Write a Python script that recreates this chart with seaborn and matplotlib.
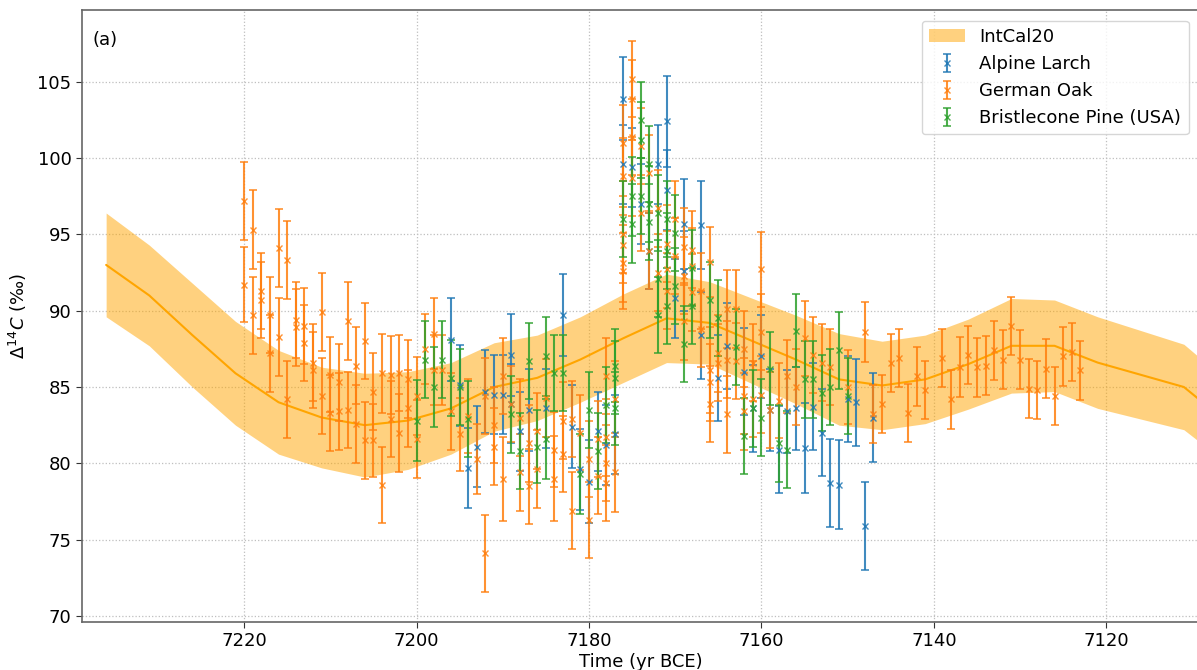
import matplotlib
matplotlib.use("Agg")
import matplotlib.pyplot as plt
import seaborn as sns

# IntCal20 curve (5-yr knots): mean and 1-sigma
intcal_year = [7236, 7231, 7226, 7221, 7216, 7211, 7206, 7201, 7196, 7191, 7186, 7181,
               7176, 7171, 7166, 7161, 7156, 7151, 7146, 7141, 7136, 7131, 7126, 7121,
               7116, 7111, 7106]
intcal_mean = [93.0, 91.0, 88.4, 85.9, 84.0, 83.0, 82.5, 82.8, 83.6, 85.0, 85.6, 86.8,
               88.2, 89.5, 89.2, 88.0, 86.8, 85.5, 85.1, 85.5, 86.5, 87.7, 87.7, 86.6,
               85.8, 85.0, 82.7]
intcal_sigma = [3.4, 3.3, 3.4, 3.4, 3.4, 3.3, 3.4, 3.2, 3.0, 2.9, 2.8, 2.8,
                2.9, 2.9, 2.7, 2.8, 2.9, 3.0, 2.9, 2.9, 2.95, 3.1, 3.0, 3.0,
                2.9, 2.8, 2.7]

# Alpine Larch
larch_year = [7196, 7195, 7194, 7193, 7192, 7191, 7190, 7189, 7189, 7188, 7187, 7185,
              7183, 7182, 7181, 7180, 7179, 7178, 7177, 7176, 7176, 7175, 7174, 7173,
              7172, 7171, 7171, 7170, 7169, 7169, 7167, 7167, 7165, 7164, 7162, 7161,
              7160, 7159, 7158, 7157, 7156, 7155, 7154, 7153, 7152, 7151, 7150, 7149,
              7148, 7147]
larch_d14c = [88.1, 85.1, 79.7, 81.1, 84.7, 84.5, 84.5, 87.1, 83.9, 82.1, 83.5, 83.6,
              89.7, 82.4, 79.6, 78.8, 82.1, 81.2, 81.9, 103.9, 99.6, 99.4, 97.0, 93.9,
              99.6, 102.4, 97.9, 90.8, 95.7, 92.6, 95.6, 88.4, 85.6, 87.7, 86.0, 83.6,
              87.0, 83.5, 80.9, 83.4, 83.6, 81.0, 83.7, 82.0, 78.7, 78.6, 84.2, 84.0,
              75.9, 83.0]
larch_err = [2.7, 2.65, 2.6, 2.65, 2.7, 2.6, 2.6, 2.7, 2.6, 2.6, 2.7, 2.6,
             2.7, 2.7, 2.65, 2.7, 2.6, 2.6, 2.6, 2.7, 2.6, 2.6, 2.6, 2.5,
             2.6, 3.0, 2.6, 2.6, 2.95, 2.6, 2.9, 2.85, 2.8, 2.8, 2.85, 2.85,
             2.7, 2.7, 2.85, 2.7, 2.7, 2.95, 2.85, 2.85, 2.9, 2.9, 2.8, 2.85,
             2.9, 2.9]

# German Oak
oak_year = [7220, 7220, 7219, 7219, 7218, 7218, 7217, 7217, 7216, 7216, 7215, 7215,
            7214, 7214, 7213, 7213, 7212, 7212, 7211, 7211, 7210, 7210, 7209, 7209,
            7208, 7208, 7207, 7207, 7206, 7206, 7205, 7205, 7204, 7204, 7203, 7203,
            7202, 7202, 7201, 7201, 7200, 7200, 7199, 7198, 7198, 7197, 7196, 7195,
            7194, 7193, 7192, 7192, 7191, 7191, 7190, 7190, 7189, 7188, 7188, 7187,
            7187, 7186, 7186, 7185, 7184, 7184, 7183, 7183, 7182, 7182, 7181, 7180,
            7180, 7179, 7179, 7178, 7178, 7178, 7178, 7177, 7177,
            7176, 7176, 7176, 7176, 7176, 7176, 7175, 7175, 7175, 7175, 7174, 7174,
            7173, 7173, 7172, 7172, 7171, 7171, 7171, 7170, 7170, 7169, 7169, 7169,
            7168, 7168, 7168, 7167, 7167, 7166, 7166, 7166, 7166, 7165, 7165,
            7164, 7164, 7164, 7163, 7163, 7162, 7162, 7162, 7161, 7161, 7160, 7160,
            7160, 7159, 7158, 7157, 7156, 7155, 7154, 7153, 7152, 7150,
            7148, 7147, 7146, 7145, 7144, 7143, 7142, 7141, 7139, 7138, 7137, 7136,
            7135, 7134, 7133, 7132, 7131, 7130, 7129, 7128, 7127, 7126, 7125, 7124,
            7123]
oak_d14c = [97.2, 91.7, 95.3, 89.7, 91.3, 90.7, 89.7, 87.2, 94.1, 88.3, 93.3, 84.2,
            89.4, 88.9, 89.0, 87.9, 86.6, 86.1, 89.9, 84.4, 85.8, 83.3, 85.3, 83.4,
            89.3, 83.5, 86.4, 82.6, 88.0, 81.5, 84.7, 81.5, 85.9, 78.6, 85.8, 82.9,
            85.9, 82.0, 85.5, 83.6, 84.4, 81.6, 87.5, 88.5, 86.1, 86.1, 83.4, 81.9,
            83.1, 80.3, 84.4, 74.1, 82.5, 81.1, 85.7, 79.0, 83.9, 83.0, 79.4, 81.3,
            78.5, 82.1, 79.6, 84.3, 80.9, 79.0, 82.8, 80.6, 82.9, 76.9, 82.0, 80.3,
            76.3, 81.6, 79.2, 85.7, 81.7, 80.0, 78.7, 84.2, 79.4,
            101.0, 98.8, 95.0, 94.3, 93.1, 92.6, 105.2, 103.9, 101.4, 98.7, 100.8, 96.4,
            99.0, 93.9, 96.7, 92.5, 94.4, 92.7, 91.3, 96.0, 93.6, 94.2, 92.3, 89.3,
            94.0, 92.9, 91.2, 91.3, 88.8, 93.2, 86.1, 85.3, 83.9, 87.2, 86.6,
            90.1, 86.8, 83.2, 90.1, 86.7, 87.5, 84.4, 83.4, 86.6, 84.2, 92.7, 88.6,
            84.5, 83.5, 84.1, 85.7, 85.0, 88.2, 87.1, 86.6, 86.3, 85.0,
            88.6, 83.2, 83.9, 86.6, 86.9, 83.3, 85.7, 84.8, 86.9, 84.2, 86.3, 87.1,
            86.3, 86.4, 87.4, 86.8, 89.0, 86.8, 84.9, 84.8, 86.2, 84.4, 87.0, 87.3,
            86.1]
oak_err = [2.56, 2.46, 2.58, 2.53, 2.5, 2.5, 2.5, 2.5, 2.56, 2.55, 2.56, 2.53,
           2.5, 2.5, 2.5, 2.5, 2.5, 2.5, 2.55, 2.5, 2.45, 2.5, 2.5, 2.5,
           2.55, 2.5, 2.5, 2.55, 2.5, 2.55, 2.5, 2.4, 2.6, 2.5, 2.55, 2.5,
           2.5, 2.55, 2.55, 2.5, 2.55, 2.55, 2.3, 2.3, 2.3, 2.3, 2.5, 2.4,
           2.4, 2.3, 2.5, 2.5, 2.5, 2.5, 2.5, 2.75, 2.5, 2.5, 2.55, 2.5,
           2.45, 2.5, 2.55, 2.55, 2.45, 2.8, 2.55, 2.5, 2.5, 2.5, 2.45, 2.5,
           2.5, 2.5, 2.5, 2.5, 2.5, 2.5, 2.5, 2.5, 2.6,
           2.5, 2.5, 2.5, 2.5, 2.5, 2.5, 2.5, 2.5, 2.5, 2.5, 2.5, 2.5,
           2.5, 2.5, 2.5, 2.5, 2.5, 2.5, 2.5, 2.5, 2.5, 2.5, 2.5, 2.5,
           2.5, 2.5, 2.5, 2.5, 2.5, 2.3, 2.8, 2.5, 2.5, 2.5, 2.5,
           2.55, 2.5, 2.5, 2.55, 2.5, 2.5, 2.5, 2.5, 2.5, 2.5, 2.45, 2.5,
           2.5, 2.5, 2.45, 2.4, 2.5, 2.45, 2.5, 2.5, 2.5, 2.4,
           1.95, 1.9, 1.9, 1.9, 1.92, 1.92, 1.92, 1.92, 1.92, 1.92, 1.95, 1.9,
           1.93, 1.92, 1.92, 1.93, 1.92, 1.93, 1.92, 1.92, 1.94, 1.92, 1.91, 1.92,
           1.92]

# Bristlecone Pine (USA)
pine_year = [7200, 7199, 7198, 7197, 7196, 7195, 7194, 7189, 7188, 7187, 7186, 7185,
             7185, 7184, 7183, 7181, 7180, 7179, 7178, 7177, 7177, 7177, 7176, 7175,
             7175, 7174, 7174, 7174, 7173, 7173, 7173, 7172, 7172, 7172, 7171, 7171,
             7171, 7170, 7170, 7169, 7168, 7168, 7166, 7165, 7163, 7162, 7161, 7160,
             7159, 7158, 7157, 7156, 7155, 7154, 7153, 7152, 7151, 7150]
pine_d14c = [82.8, 86.8, 85.0, 86.8, 85.6, 85.0, 82.9, 83.2, 80.8, 86.7, 81.1, 87.0,
             81.6, 85.9, 85.9, 79.3, 83.5, 80.8, 83.8, 86.4, 85.6, 83.6, 96.0, 97.5,
             95.7, 102.5, 101.2, 97.5, 99.6, 97.0, 95.8, 96.4, 92.1, 89.7, 96.0, 93.9,
             90.3, 95.1, 91.6, 87.8, 92.8, 90.3, 90.7, 89.5, 87.6, 81.8, 83.6, 83.0,
             86.2, 81.3, 80.9, 88.7, 85.5, 85.5, 84.6, 85.0, 87.4, 84.4]
pine_err = [2.65, 2.5, 2.6, 2.5, 2.5, 2.5, 2.5, 2.5, 2.5, 2.5, 2.4, 2.6,
            2.6, 2.5, 2.5, 2.6, 2.5, 2.5, 2.5, 2.4, 2.4, 2.4, 2.5, 2.6,
            2.6, 2.5, 2.5, 2.5, 2.5, 2.5, 2.5, 2.5, 2.5, 2.5, 2.5, 2.5,
            2.5, 2.5, 2.5, 2.5, 2.5, 2.5, 2.5, 2.5, 2.5, 2.5, 2.5, 2.5,
            2.4, 2.5, 2.5, 2.4, 2.5, 2.5, 2.5, 2.5, 2.5, 2.5]

sns.set_style("whitegrid")
plt.rcParams['font.family'] = ['DejaVu Sans']
plt.rcParams['text.color'] = 'black'
plt.rcParams['axes.labelcolor'] = 'black'
plt.rcParams['xtick.color'] = 'black'
plt.rcParams['ytick.color'] = 'black'

fig = plt.figure(figsize=(11.97, 6.70), dpi=100)
ax = fig.add_axes([0.0685, 0.0716, 0.9335, 0.9134])

lower = [m - s for m, s in zip(intcal_mean, intcal_sigma)]
upper = [m + s for m, s in zip(intcal_mean, intcal_sigma)]
ax.fill_between(intcal_year, lower, upper, color="orange", alpha=0.5, lw=0, label="IntCal20")
sns.lineplot(x=intcal_year, y=intcal_mean, color="orange", lw=1.5, ax=ax)

kw = dict(fmt="x", capsize=3, markersize=5, elinewidth=1.5, capthick=1.2, alpha=0.85)
ax.errorbar(larch_year, larch_d14c, yerr=larch_err, color="tab:blue", label="Alpine Larch", **kw)
ax.errorbar(oak_year, oak_d14c, yerr=oak_err, color="tab:orange", label="German Oak", **kw)
ax.errorbar(pine_year, pine_d14c, yerr=pine_err, color="tab:green",
            label="Bristlecone Pine (USA)", **kw)

ax.set_xlim(7238.8, 7109.2)
ax.set_ylim(69.6, 109.7)
ax.set_xticks([7220, 7200, 7180, 7160, 7140, 7120])
ax.set_yticks([70, 75, 80, 85, 90, 95, 100, 105])
ax.grid(True, linestyle=":", color="0.75", lw=0.9)
for s in ax.spines.values():
    s.set_edgecolor("0.4")
    s.set_linewidth(1.2)
ax.tick_params(labelsize=13, length=4, color="0.2", left=True, bottom=True)

ax.set_xlabel("Time (yr BCE)", fontsize=13, labelpad=2)
ax.set_ylabel(r"$\Delta^{14}C$ (‰)", fontsize=13, labelpad=6)
ax.text(0.009, 0.951, "(a)", transform=ax.transAxes, fontsize=13, va="center")

ax.legend(loc="upper right", fontsize=13, frameon=True, borderaxespad=0.6)

plt.savefig("out.png", dpi=100)
plt.close()
